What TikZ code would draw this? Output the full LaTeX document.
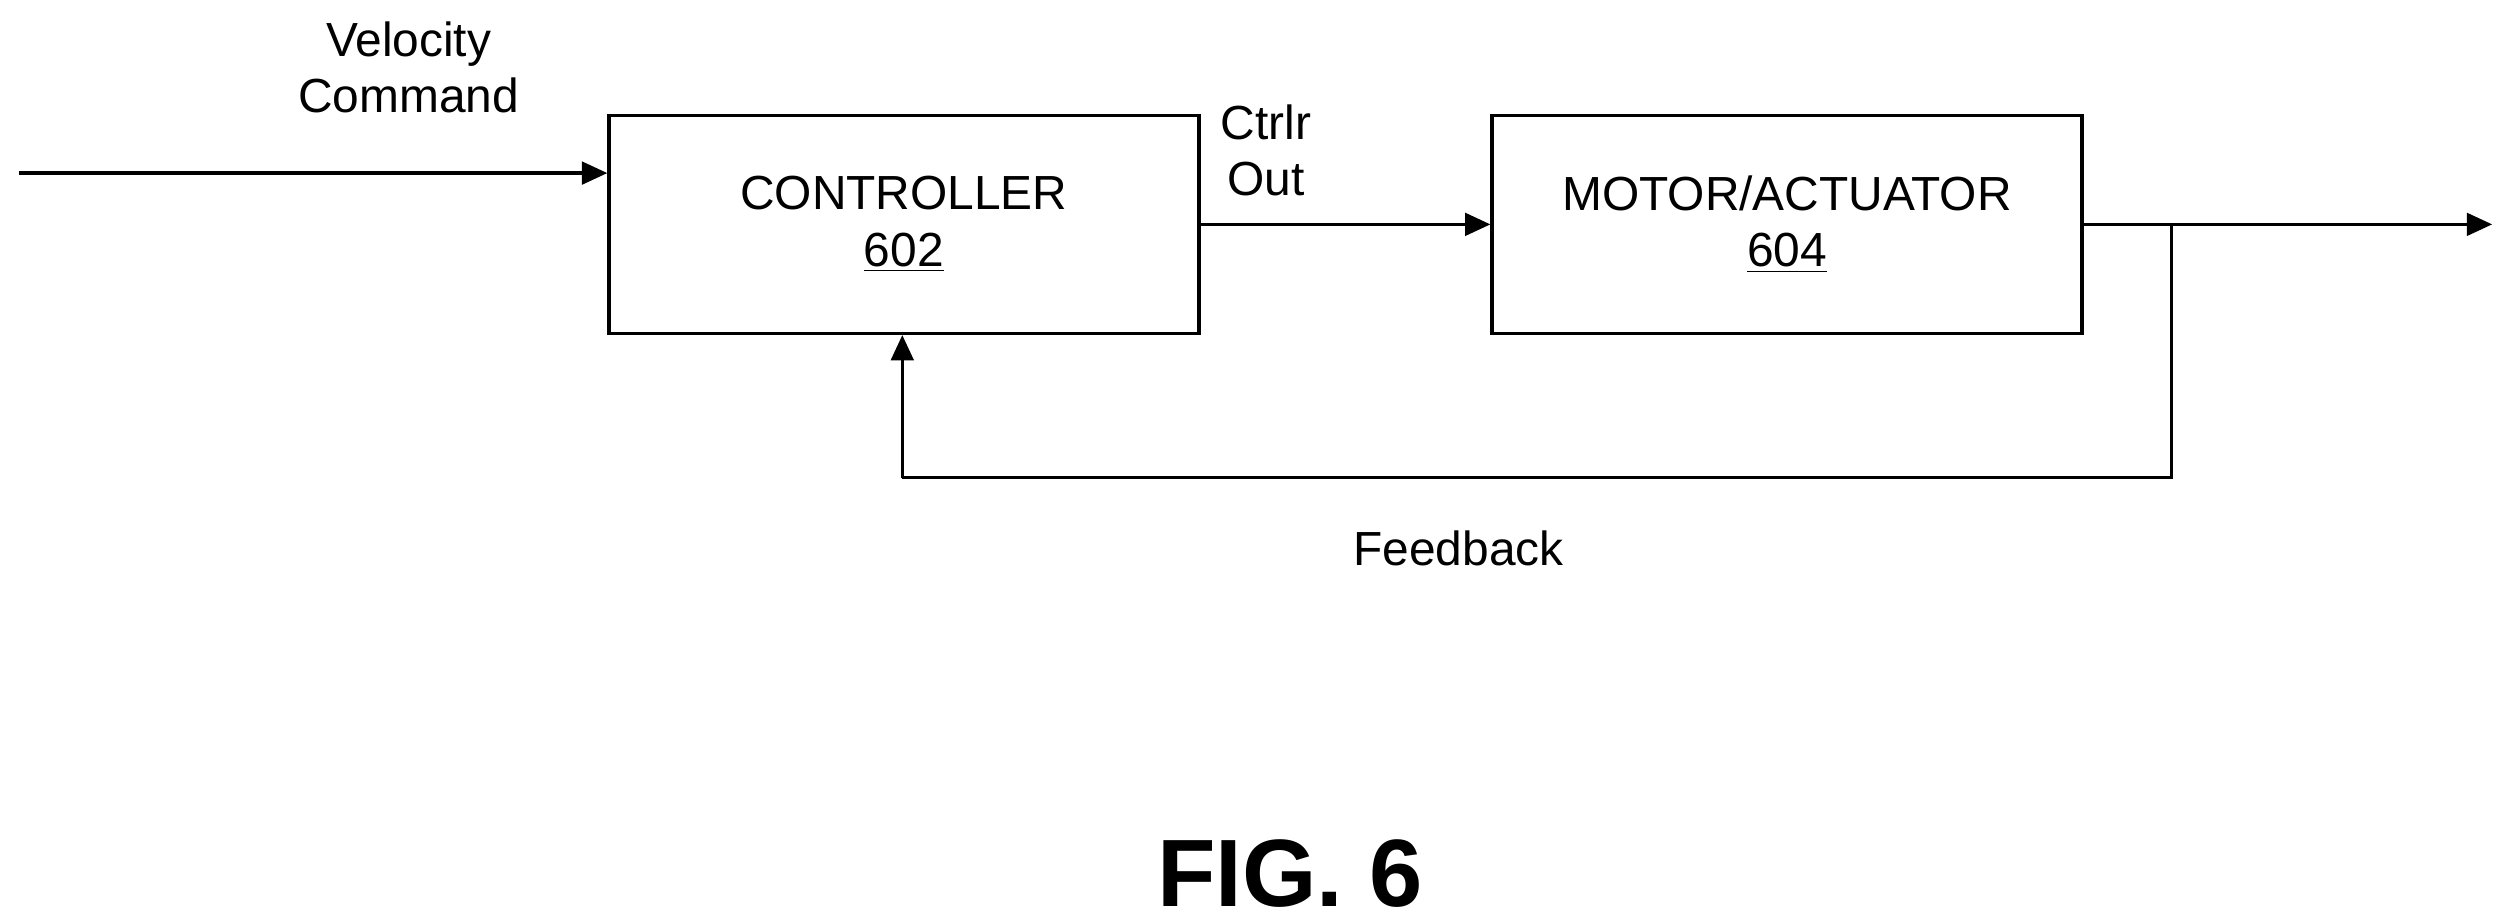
\documentclass[tikz,border=0pt]{standalone}
\usepackage{fontspec}
\setmainfont{Liberation Sans}
\usetikzlibrary{arrows.meta}
\begin{document}
\begin{tikzpicture}[x=0.02cm,y=-0.02cm,
  blk/.style={draw,line width=1.2pt,minimum width=368*0.02cm,minimum height=136*0.02cm,inner sep=0pt,font=\fontsize{17}{20}\selectfont,align=center},
  lbl/.style={font=\fontsize{17}{20}\selectfont,align=center,inner sep=0pt},
  ar/.style={line width=1.2pt,-{Triangle[length=9pt,width=8pt]}},
  ln/.style={line width=1.2pt}]
\useasboundingbox (0,0) rectangle (1568,576.5);
\node[blk] (c) at (564,140) {CONTROLLER\\\underline{602}};
\node[blk] (m) at (1115,140) {MOTOR/ACTUATOR\\\underline{604}};
\coordinate (in) at (12,108);
\coordinate (out) at (1555,140);
\coordinate (tap) at (1355,140);
\coordinate (fb1) at (1355,298);
\coordinate (fb2) at (563,298);
\draw[ar] (in) -- (in -| c.west);
\draw[ar] (c.east |- m.west) -- (m.west);
\draw[ar] (m.east) -- (out);
\draw[ln] (tap) -- (fb1) -- (fb2);
\draw[ar] (fb2) -- (fb2 |- c.south);
\node[lbl] (vc) at (255,42) {Velocity\\Command};
\node[lbl] (co) at (790,94) {Ctrlr\\Out};
\node[lbl] (fb) at (910,342) {Feedback};
\node[font=\bfseries\fontsize{34}{40}\selectfont,inner sep=0pt] (fig) at (805,545) {FIG. 6};
\end{tikzpicture}
\end{document}
